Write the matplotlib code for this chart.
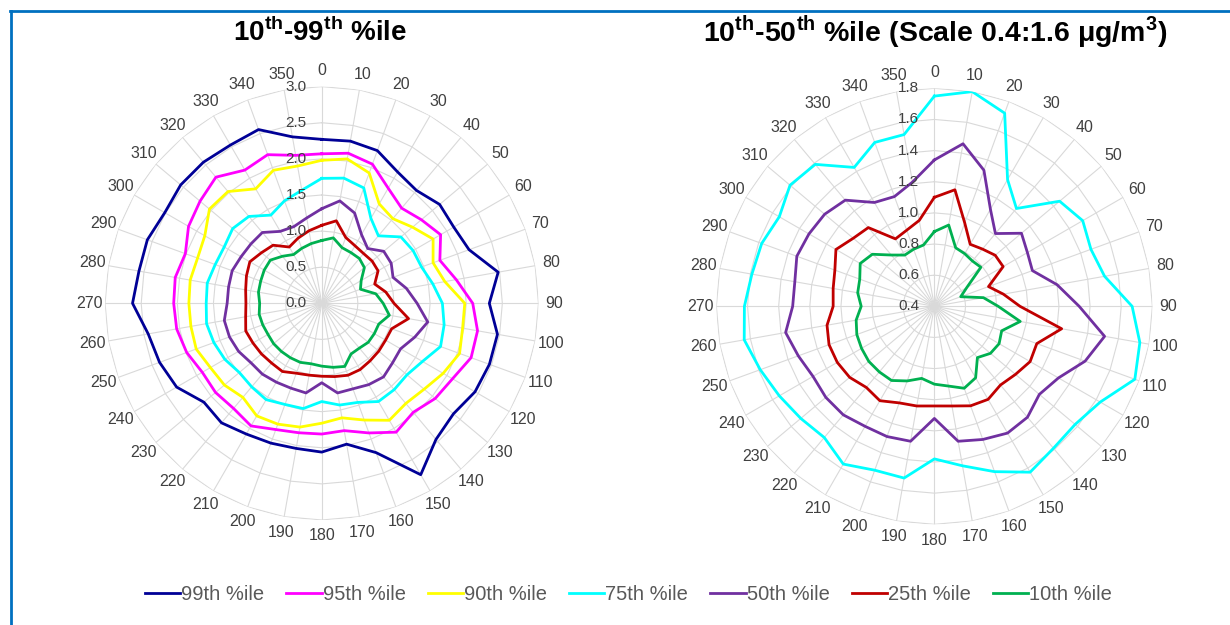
import numpy as np
import matplotlib.pyplot as plt
from matplotlib.lines import Line2D
from matplotlib.transforms import offset_copy

plt.rcParams['font.family'] = ['Liberation Sans', 'DejaVu Sans']
plt.rcParams['mathtext.fontset'] = 'custom'
plt.rcParams['mathtext.rm'] = 'Liberation Sans'
plt.rcParams['mathtext.bf'] = 'Liberation Sans:bold'

# wind direction (deg), one value every 10 deg
directions = list(range(0, 360, 10))

# left panel: 10th-99th percentiles
p99 = [2.27, 2.28, 2.25, 2.10, 2.04, 2.13, 2.11, 2.17, 2.48, 2.32, 2.47, 2.47,
       2.45, 2.38, 2.46, 2.74, 2.20, 1.98, 2.06, 2.04, 2.06, 2.09, 2.16, 2.13,
       2.32, 2.39, 2.44, 2.62, 2.57, 2.57, 2.51, 2.55, 2.55, 2.53, 2.56, 2.34]
p95 = [2.07, 2.11, 2.05, 1.84, 1.72, 1.80, 1.90, 1.74, 1.89, 2.09, 2.19, 2.20,
       2.09, 2.05, 1.97, 2.06, 1.91, 1.79, 1.81, 1.82, 1.86, 1.96, 1.90, 1.92,
       1.91, 1.99, 2.04, 2.05, 2.06, 2.01, 2.13, 2.20, 2.28, 2.13, 2.19, 2.08]
p90 = [1.98, 2.03, 1.92, 1.59, 1.53, 1.64, 1.78, 1.64, 1.73, 1.98, 1.98, 2.03,
       1.94, 1.85, 1.81, 1.87, 1.72, 1.61, 1.66, 1.74, 1.78, 1.80, 1.70, 1.76,
       1.78, 1.85, 1.84, 1.84, 1.85, 1.83, 1.87, 2.03, 2.02, 1.83, 1.96, 1.93]
p75 = [1.73, 1.76, 1.70, 1.36, 1.22, 1.43, 1.46, 1.47, 1.56, 1.67, 1.72, 1.75,
       1.61, 1.54, 1.56, 1.57, 1.46, 1.43, 1.36, 1.48, 1.49, 1.54, 1.51, 1.49,
       1.55, 1.59, 1.62, 1.60, 1.61, 1.57, 1.56, 1.61, 1.57, 1.41, 1.51, 1.59]
p50 = [1.31, 1.44, 1.33, 1.10, 0.99, 1.12, 1.11, 1.05, 1.19, 1.32, 1.49, 1.37,
       1.26, 1.28, 1.33, 1.30, 1.26, 1.26, 1.10, 1.26, 1.25, 1.26, 1.28, 1.28,
       1.33, 1.36, 1.37, 1.31, 1.31, 1.32, 1.29, 1.28, 1.28, 1.15, 1.13, 1.20]
p25 = [1.08, 1.16, 0.97, 0.92, 0.90, 0.91, 0.90, 0.78, 0.90, 1.00, 1.22, 1.03,
       1.02, 1.03, 1.04, 1.06, 1.06, 1.03, 1.01, 1.01, 1.03, 1.09, 1.08, 1.09,
       1.10, 1.12, 1.07, 1.05, 1.07, 1.11, 1.15, 1.09, 1.05, 0.90, 0.96, 1.02]
p10 = [0.87, 0.92, 0.82, 0.81, 0.81, 0.77, 0.63, 0.57, 0.76, 0.85, 0.95, 0.84,
       0.84, 0.84, 0.81, 0.81, 0.93, 0.90, 0.87, 0.85, 0.87, 0.87, 0.87, 0.87,
       0.86, 0.87, 0.88, 0.86, 0.89, 0.90, 0.92, 0.93, 0.85, 0.78, 0.81, 0.84]

# right panel: 10th-75th percentiles, 0.4-1.8 scale
p75_r = [1.75, 1.80, 1.72, 1.34, 1.22, 1.45, 1.50, 1.47, 1.51, 1.67, 1.74, 1.77,
         1.63, 1.58, 1.59, 1.63, 1.53, 1.44, 1.38, 1.52, 1.52, 1.57, 1.50, 1.52,
         1.55, 1.59, 1.64, 1.62, 1.59, 1.58, 1.55, 1.61, 1.59, 1.43, 1.52, 1.52]
p50_r = [1.34, 1.46, 1.33, 1.12, 1.01, 1.13, 1.09, 1.07, 1.20, 1.33, 1.51, 1.43,
         1.32, 1.28, 1.33, 1.34, 1.31, 1.28, 1.12, 1.28, 1.29, 1.29, 1.31, 1.31,
         1.30, 1.33, 1.37, 1.31, 1.31, 1.34, 1.33, 1.32, 1.29, 1.17, 1.15, 1.21]
p25_r = [1.10, 1.16, 0.97, 0.86, 0.88, 0.91, 0.91, 0.77, 0.85, 0.95, 1.23, 1.10,
         1.11, 1.08, 1.06, 1.09, 1.08, 1.05, 1.04, 1.05, 1.06, 1.10, 1.08, 1.11,
         1.12, 1.12, 1.10, 1.05, 1.06, 1.08, 1.13, 1.08, 1.06, 0.90, 0.92, 0.96]
p10_r = [0.88, 0.93, 0.80, 0.79, 0.78, 0.79, 0.64, 0.58, 0.72, 0.81, 0.96, 0.86,
         0.88, 0.87, 0.83, 0.93, 0.96, 0.92, 0.90, 0.87, 0.91, 0.95, 0.95, 0.95,
         0.94, 0.93, 0.91, 0.87, 0.90, 0.91, 0.95, 0.92, 0.83, 0.78, 0.79, 0.80]

labels = ['99th %ile', '95th %ile', '90th %ile', '75th %ile',
          '50th %ile', '25th %ile', '10th %ile']
colors = ['#000096', '#FF00FF', '#FFFF00', '#00FFFF',
          '#7030A0', '#C00000', '#00B050']

grid_col = '#D9D9D9'
text_col = '#404040'


def radar(ax, series, cols, rings):
    theta = np.deg2rad(directions + [directions[0]])
    ax.set_theta_zero_location('N')
    ax.set_theta_direction(-1)
    ax.set_ylim(rings[0], rings[-1])
    ax.spines['polar'].set_visible(False)
    ax.yaxis.grid(False)
    ax.set_yticks([])
    ax.set_thetagrids(directions, labels=[str(d) for d in directions])
    ax.xaxis.grid(True, color=grid_col, lw=0.8)
    ax.tick_params(axis='x', pad=1, labelsize=11.5, labelcolor=text_col)
    # polygon rings like the spreadsheet radar chart
    for r in rings[1:]:
        ax.plot(theta, [r] * len(theta), color=grid_col, lw=0.8, zorder=1)
    lab_tr = offset_copy(ax.transData, fig=ax.figure, x=-15, y=0, units='dots')
    for r in rings:
        ax.text(0, r, '%.1f' % r, transform=lab_tr, ha='right', va='center',
                fontsize=11, color=text_col, zorder=5)
    lines = []
    for vals, c in zip(series, cols):
        ln, = ax.plot(theta, vals + [vals[0]], color=c, lw=2.0, zorder=3)
        lines.append(ln)
    return lines


fig = plt.figure(figsize=(12.3, 6.25), dpi=100)

ax1 = fig.add_axes([0.0854, 0.168, 0.3524, 0.6934], projection='polar')
handles = radar(ax1, [p99, p95, p90, p75, p50, p25, p10], colors,
                np.arange(0, 3.01, 0.5))

ax2 = fig.add_axes([0.5824, 0.1611, 0.3545, 0.6976], projection='polar')
radar(ax2, [p75_r, p50_r, p25_r, p10_r], colors[3:],
      np.round(np.arange(0.4, 1.81, 0.2), 1))

fig.text(0.260, 0.948, r'10$^{\mathbf{th}}$-99$^{\mathbf{th}}$ %ile',
         ha='center', va='center', fontsize=20, fontweight='bold')
fig.text(0.760, 0.948,
         r'10$^{\mathbf{th}}$-50$^{\mathbf{th}}$ %ile (Scale 0.4:1.6 μg/m$^{\mathbf{3}}$)',
         ha='center', va='center', fontsize=20.5, fontweight='bold')

fig.legend(handles, labels, loc='center', bbox_to_anchor=(0.511, 0.049),
           ncol=7, frameon=False, fontsize=14.5, handlelength=1.75,
           handletextpad=0.05, columnspacing=1.1, labelcolor='#595959')

# blue frame on top and left edge
fig.add_artist(Line2D([0.0085, 1.0], [0.982, 0.982], color='#0070C0', lw=2))
fig.add_artist(Line2D([0.0090, 0.0090], [0.0, 0.982], color='#0070C0', lw=2))

fig.savefig('out.png', dpi=100)
